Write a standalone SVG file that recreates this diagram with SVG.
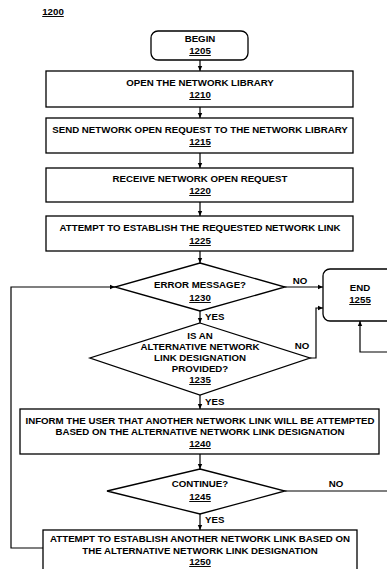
<svg xmlns="http://www.w3.org/2000/svg" width="387" height="569" viewBox="0 0 387 569">
<defs>
<marker id="ah" markerWidth="6" markerHeight="6" refX="5" refY="3" orient="auto" markerUnits="userSpaceOnUse">
<path d="M0,0.8 L5,3 L0,5.2 Z" fill="#000"/>
</marker>
<style>
rect,polygon{fill:#fff;stroke:#000;stroke-width:1.3}
.c path{fill:none;stroke:#000;stroke-width:1.2}
text{font-family:"Liberation Sans",Arial,sans-serif;font-weight:bold;font-size:9.7px;fill:#000;text-anchor:middle}
.u{text-decoration:underline}
.l{text-anchor:start}
</style>
</defs>
<rect width="387" height="569" style="fill:#fff;stroke:none"/>
<text x="53" y="15" class="u">1200</text>
<g class="c">
<path d="M200,60 V71" marker-end="url(#ah)"/>
<path d="M200,107 V118" marker-end="url(#ah)"/>
<path d="M200,153 V168" marker-end="url(#ah)"/>
<path d="M200,202 V216" marker-end="url(#ah)"/>
<path d="M200,251 V263" marker-end="url(#ah)"/>
<path d="M285,287 H323" marker-end="url(#ah)"/>
<path d="M200,311 V323" marker-end="url(#ah)"/>
<path d="M310,358 H316 V308 H323" marker-end="url(#ah)"/>
<path d="M200,395 V409" marker-end="url(#ah)"/>
<path d="M200,454 V469" marker-end="url(#ah)"/>
<path d="M285,491 H392 V352 H360 V321" marker-end="url(#ah)"/>
<path d="M200,514 V530" marker-end="url(#ah)"/>
<path d="M43,548 H11 V287 H115" marker-end="url(#ah)"/>
<text x="300" y="284">NO</text>
<text x="205" y="320" class="l">YES</text>
<text x="302" y="349">NO</text>
<text x="205" y="405" class="l">YES</text>
<text x="336" y="487">NO</text>
<text x="205" y="523" class="l">YES</text>
</g>
<g id="n1205"><rect x="151" y="31" width="97" height="29" rx="7"/><text x="200" y="42">BEGIN</text><text x="200" y="54" class="u">1205</text></g>
<g id="n1210"><rect x="46" y="71" width="307" height="36"/><text x="200" y="86">OPEN THE NETWORK LIBRARY</text><text x="200" y="98" class="u">1210</text></g>
<g id="n1215"><rect x="46" y="118" width="307" height="35"/><text x="200" y="133">SEND NETWORK OPEN REQUEST TO THE NETWORK LIBRARY</text><text x="200" y="145" class="u">1215</text></g>
<g id="n1220"><rect x="46" y="168" width="307" height="34"/><text x="200" y="182">RECEIVE NETWORK OPEN REQUEST</text><text x="200" y="194" class="u">1220</text></g>
<g id="n1225"><rect x="46" y="216" width="307" height="35"/><text x="200" y="231">ATTEMPT TO ESTABLISH THE REQUESTED NETWORK LINK</text><text x="200" y="244" class="u">1225</text></g>
<g id="n1230"><polygon points="200,263 285,287 200,311 115,287"/><text x="200" y="288">ERROR MESSAGE?</text><text x="200" y="301" class="u">1230</text></g>
<g id="n1235"><polygon points="200,323 310,358 200,395 90,358"/><text x="200" y="339">IS AN</text><text x="200" y="350">ALTERNATIVE NETWORK</text><text x="200" y="361">LINK DESIGNATION</text><text x="200" y="372">PROVIDED?</text><text x="200" y="383" class="u">1235</text></g>
<g id="n1240"><rect x="20" y="409" width="359" height="45"/><text x="200" y="424">INFORM THE USER THAT ANOTHER NETWORK LINK WILL BE ATTEMPTED</text><text x="200" y="435">BASED ON THE ALTERNATIVE NETWORK LINK DESIGNATION</text><text x="200" y="447" class="u">1240</text></g>
<g id="n1245"><polygon points="200,469 285,491 200,514 107,491"/><text x="200" y="487">CONTINUE?</text><text x="200" y="500" class="u">1245</text></g>
<g id="n1250"><rect x="43" y="530" width="314" height="50"/><text x="200" y="542">ATTEMPT TO ESTABLISH ANOTHER NETWORK LINK BASED ON</text><text x="200" y="554">THE ALTERNATIVE NETWORK LINK DESIGNATION</text><text x="200" y="565" class="u">1250</text></g>
<g id="n1255"><rect x="323" y="269" width="76" height="52" rx="7"/><text x="360" y="291">END</text><text x="360" y="303" class="u">1255</text></g>
</svg>
